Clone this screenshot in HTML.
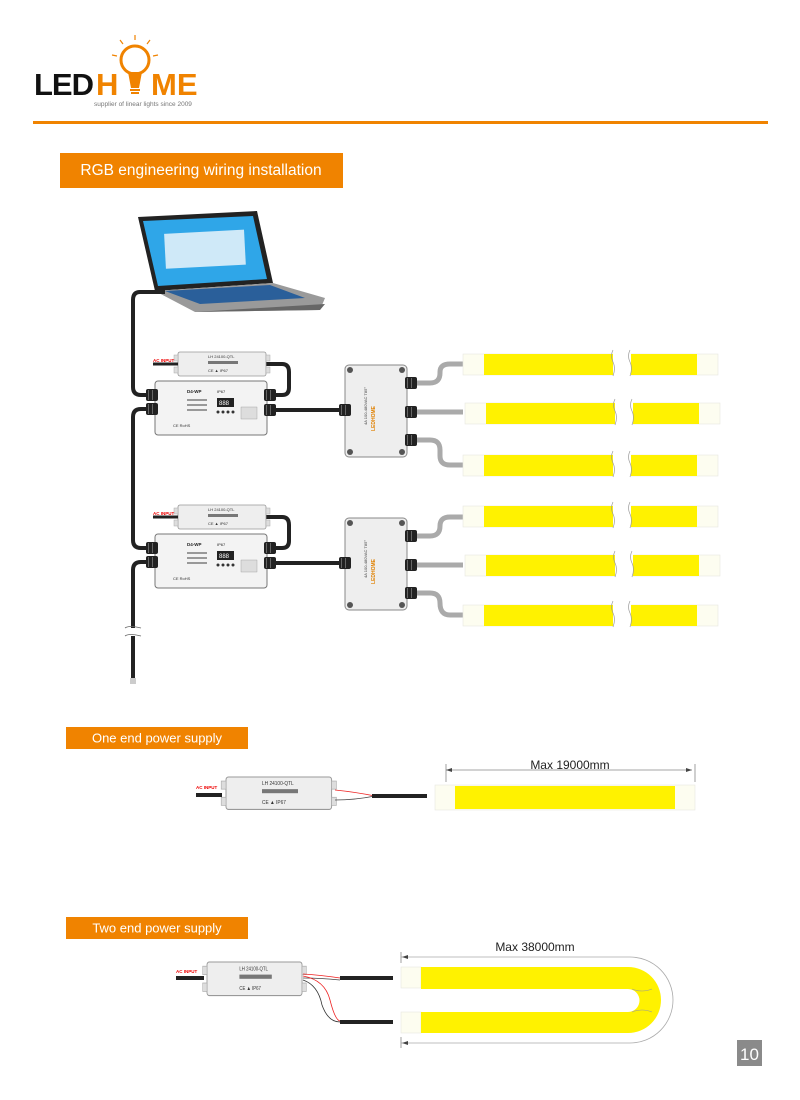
<!DOCTYPE html>
<html><head><meta charset="utf-8"><style>
html,body{margin:0;padding:0;background:#fff;}
svg{display:block;font-family:"Liberation Sans",sans-serif;}
</style></head><body>
<svg width="800" height="1100" viewBox="0 0 800 1100" xmlns="http://www.w3.org/2000/svg">
<defs>
<g id="ps">
 <rect x="0" y="0" width="88" height="24" rx="2" fill="#eeeeee" stroke="#999" stroke-width="0.8"/>
 <rect x="-4" y="3" width="4" height="6" fill="#ddd" stroke="#aaa" stroke-width="0.5"/>
 <rect x="-4" y="15" width="4" height="6" fill="#ddd" stroke="#aaa" stroke-width="0.5"/>
 <rect x="88" y="3" width="4" height="6" fill="#ddd" stroke="#aaa" stroke-width="0.5"/>
 <rect x="88" y="15" width="4" height="6" fill="#ddd" stroke="#aaa" stroke-width="0.5"/>
 <text x="30" y="6" font-size="4" fill="#333">LH 24100-QTL</text>
 <rect x="30" y="9" width="30" height="3" fill="#777"/>
 <text x="30" y="20" font-size="4" fill="#333">CE ▲ IP67</text>
</g>
<g id="ctrl">
 <rect x="0" y="0" width="112" height="54" rx="3" fill="#f3f3f3" stroke="#777" stroke-width="1"/>
 <text x="32" y="12" font-size="4.5" font-weight="bold" fill="#222">D4-WP</text>
 <text x="62" y="12" font-size="4" fill="#222">IP67</text>
 <rect x="62" y="17" width="17" height="9" fill="#222"/>
 <text x="64" y="24" font-size="6" fill="#fff">888</text>
 <circle cx="63" cy="31" r="1.5" fill="#333"/><circle cx="68" cy="31" r="1.5" fill="#333"/><circle cx="73" cy="31" r="1.5" fill="#333"/><circle cx="78" cy="31" r="1.5" fill="#333"/>
 <rect x="86" y="26" width="16" height="12" fill="#ddd" stroke="#999" stroke-width="0.4"/>
 <rect x="32" y="18" width="20" height="2" fill="#999"/><rect x="32" y="23" width="20" height="2" fill="#999"/><rect x="32" y="28" width="20" height="2" fill="#999"/>
 <text x="18" y="46" font-size="4" fill="#333">CE RoHS</text>
</g>
<g id="gland">
 <rect x="0" y="0" width="12" height="12" rx="2" fill="#222"/>
 <rect x="2" y="1" width="1" height="10" fill="#666"/><rect x="6" y="1" width="1" height="10" fill="#666"/>
</g>
<g id="jbox">
 <rect x="0" y="0" width="62" height="92" rx="4" fill="#eeeeee" stroke="#888" stroke-width="1"/>
 <circle cx="5" cy="5" r="3" fill="#555"/><circle cx="57" cy="5" r="3" fill="#555"/>
 <circle cx="5" cy="87" r="3" fill="#555"/><circle cx="57" cy="87" r="3" fill="#555"/>
 <text transform="translate(22,60) rotate(-90)" font-size="4" fill="#444">4A 100-480VAC T85°</text>
 <text transform="translate(30,66) rotate(-90)" font-size="5" font-weight="bold" fill="#e08000">LEDHOME</text>
</g>
<g id="strip">
 <rect x="0" y="0" width="255" height="21" fill="#fdfdf0" stroke="#e6e6e0" stroke-width="0.6"/>
 <rect x="21" y="0" width="213" height="21" fill="#fff200"/>
 <rect x="150" y="-2" width="18" height="25" fill="#fff"/>
 <path d="M150 -4 q-3 6 0 12 q3 6 0 14" stroke="#999" stroke-width="0.7" fill="none"/>
 <path d="M167 -4 q-3 6 0 12 q3 6 0 14" stroke="#999" stroke-width="0.7" fill="none"/>
</g>
</defs>

<!-- logo -->
<text x="34" y="95" font-size="31" font-weight="bold" fill="#111" letter-spacing="-1">LED</text>
<text x="96" y="95" font-size="31" font-weight="bold" fill="#F08300">H</text>
<circle cx="135" cy="60" r="14" fill="none" stroke="#F08300" stroke-width="3"/>
<path d="M128 72 L131 88 L139 88 L142 72 Z" fill="#F08300"/>
<rect x="130" y="89" width="10" height="2" fill="#F08300"/><rect x="131" y="92" width="8" height="2" fill="#F08300"/>
<g stroke="#F08300" stroke-width="1.2"><line x1="135" y1="35" x2="135" y2="40"/><line x1="120" y1="40" x2="123" y2="44"/><line x1="150" y1="40" x2="147" y2="44"/><line x1="112" y1="55" x2="117" y2="56"/><line x1="158" y1="55" x2="153" y2="56"/></g>
<text x="151" y="95" font-size="31" font-weight="bold" fill="#F08300">ME</text>
<text x="94" y="106" font-size="6.5" fill="#777">supplier of linear lights since 2009</text>
<rect x="33" y="121" width="735" height="3" fill="#F08300"/>

<!-- title -->
<rect x="60" y="153" width="283" height="35" fill="#F08300"/>
<text x="201" y="175" font-size="15.5" fill="#fff" text-anchor="middle">RGB engineering wiring installation</text>

<!-- laptop -->
<path d="M138 217 L257 211 L273 283 L155 291 Z" fill="#222"/>
<path d="M143 221 L253 216 L267 279 L158 286 Z" fill="#2fa6e8"/>
<rect x="165" y="232" width="80" height="35" fill="#cfe9f8" transform="rotate(-3 200 250)"/>
<path d="M155 291 L273 283 L325 298 L320 310 L195 312 Z" fill="#9a9a9a"/>
<path d="M165 291 L270 285 L305 298 L200 304 Z" fill="#2a5f9a"/>
<path d="M195 312 L320 310 L325 304 Z" fill="#666"/>

<!-- cables group 1 -->
<g fill="none" stroke="#222" stroke-width="4">
 <path d="M165 292 L140 292 Q133 292 133 300 L133 387 Q133 395 141 395 L150 395"/>
 <path d="M150 409 L141 409 Q133 409 133 417 L133 540 Q133 548 141 548 L150 548"/>
 <path d="M150 562 L141 562 Q133 562 133 570 L133 628"/>
 <path d="M133 636 L133 680"/>
 <path d="M265 364 L282 364 Q289 364 289 372 L289 388 Q289 395 282 395 L272 395"/>
 <path d="M272 410 L345 410"/>
 <path d="M265 517 L282 517 Q289 517 289 525 L289 541 Q289 548 282 548 L272 548"/>
 <path d="M272 563 L345 563"/>
</g>
<path d="M125 628 q4 -3 16 0 M125 636 q4 -3 16 0" stroke="#666" stroke-width="0.8" fill="none"/>
<rect x="129" y="678" width="8" height="5" fill="#fff"/>
<g stroke="#555" stroke-width="0.6"><line x1="130" y1="679" x2="136" y2="679"/><line x1="130" y1="681" x2="136" y2="681"/><line x1="130" y1="683" x2="136" y2="683"/></g>

<!-- gray cables to strips -->
<g fill="none" stroke="#aaa" stroke-width="5">
 <path d="M415 383 L430 383 Q440 383 440 373 L440 372 Q440 364 450 364 L463 364"/>
 <path d="M415 412 L463 412"/>
 <path d="M415 440 L430 440 Q440 440 440 450 L440 456 Q440 465 450 465 L463 465"/>
 <path d="M415 536 L430 536 Q440 536 440 526 Q440 517 450 517 L463 517"/>
 <path d="M415 565 L463 565"/>
 <path d="M415 593 L430 593 Q440 593 440 603 Q440 615 450 615 L463 615"/>
</g>

<!-- group 1 devices -->
<use href="#ps" x="178" y="352"/>
<text x="153" y="362" font-size="4.5" font-weight="bold" fill="#e00">AC INPUT</text>
<line x1="153" y1="364" x2="178" y2="364" stroke="#222" stroke-width="3"/>
<use href="#ctrl" x="155" y="381"/>
<use href="#gland" x="146" y="389"/><use href="#gland" x="146" y="403"/>
<use href="#gland" x="264" y="389"/><use href="#gland" x="264" y="404"/>
<use href="#jbox" x="345" y="365"/>
<use href="#gland" x="339" y="404"/>
<use href="#gland" x="405" y="377"/><use href="#gland" x="405" y="406"/><use href="#gland" x="405" y="434"/>
<use href="#strip" x="463" y="354"/>
<use href="#strip" x="465" y="403"/>
<use href="#strip" x="463" y="455"/>

<!-- group 2 -->
<use href="#ps" x="178" y="505"/>
<text x="153" y="515" font-size="4.5" font-weight="bold" fill="#e00">AC INPUT</text>
<line x1="153" y1="517" x2="178" y2="517" stroke="#222" stroke-width="3"/>
<use href="#ctrl" x="155" y="534"/>
<use href="#gland" x="146" y="542"/><use href="#gland" x="146" y="556"/>
<use href="#gland" x="264" y="542"/><use href="#gland" x="264" y="557"/>
<use href="#jbox" x="345" y="518"/>
<use href="#gland" x="339" y="557"/>
<use href="#gland" x="405" y="530"/><use href="#gland" x="405" y="559"/><use href="#gland" x="405" y="587"/>
<use href="#strip" x="463" y="506"/>
<use href="#strip" x="465" y="555"/>
<use href="#strip" x="463" y="605"/>

<!-- One end -->
<rect x="66" y="727" width="182" height="22" fill="#F08300"/>
<text x="157" y="742.5" font-size="13" fill="#fff" text-anchor="middle">One end power supply</text>
<use href="#ps" transform="translate(226 777) scale(1.2 1.35)"/>
<text x="196" y="789" font-size="4.5" font-weight="bold" fill="#e00">AC INPUT</text>
<line x1="196" y1="795" x2="222" y2="795" stroke="#222" stroke-width="4"/>
<path d="M335 790 Q355 792 375 796" stroke="#e22" stroke-width="0.8" fill="none"/>
<path d="M335 800 Q355 800 375 796" stroke="#444" stroke-width="0.8" fill="none"/>
<line x1="372" y1="796" x2="427" y2="796" stroke="#222" stroke-width="4"/>
<rect x="435" y="785" width="260" height="25" fill="#fdfdf0" stroke="#e6e6e0" stroke-width="0.6"/>
<rect x="455" y="786" width="220" height="23" fill="#fff200"/>
<line x1="446" y1="770" x2="692" y2="770" stroke="#888" stroke-width="0.8"/>
<line x1="446" y1="764" x2="446" y2="782" stroke="#888" stroke-width="0.8"/>
<line x1="695" y1="764" x2="695" y2="782" stroke="#888" stroke-width="0.8"/>
<path d="M446 770 l6 -2 v4 z M692 770 l-6 -2 v4 z" fill="#444"/>
<text x="570" y="769" font-size="12" fill="#222" text-anchor="middle">Max 19000mm</text>

<!-- Two end -->
<rect x="66" y="917" width="182" height="22" fill="#F08300"/>
<text x="157" y="932.5" font-size="13" fill="#fff" text-anchor="middle">Two end power supply</text>
<use href="#ps" transform="translate(207 962) scale(1.08 1.4)"/>
<text x="176" y="973" font-size="4.5" font-weight="bold" fill="#e00">AC INPUT</text>
<line x1="176" y1="978" x2="204" y2="978" stroke="#222" stroke-width="4"/>
<path d="M303 974 Q320 975 340 978" stroke="#e22" stroke-width="0.8" fill="none"/>
<path d="M303 978 Q320 978 340 980" stroke="#444" stroke-width="0.8" fill="none"/>
<path d="M303 976 Q325 980 330 1000 Q335 1020 340 1021" stroke="#e22" stroke-width="0.8" fill="none"/>
<path d="M303 980 Q318 985 322 1005 Q328 1022 340 1022" stroke="#333" stroke-width="0.8" fill="none"/>
<line x1="340" y1="978" x2="393" y2="978" stroke="#222" stroke-width="4"/>
<line x1="340" y1="1022" x2="393" y2="1022" stroke="#222" stroke-width="4"/>
<rect x="401" y="967" width="20" height="21" fill="#fdfdf0" stroke="#e6e6e0" stroke-width="0.6"/>
<rect x="401" y="1012" width="20" height="21" fill="#fdfdf0" stroke="#e6e6e0" stroke-width="0.6"/>
<path d="M421 967 L628 967 A33 33 0 0 1 628 1033 L421 1033 L421 1012 L628 1012 A11.5 11.5 0 0 0 628 989 L421 989 Z" fill="#fff200"/>
<path d="M632 989 q10 4 20 0 M632 1012 q10 -4 20 0" stroke="#999" stroke-width="0.6" fill="none"/>
<path d="M401 957 L630 957 A43 43 0 0 1 630 1043 L401 1043" stroke="#aaa" stroke-width="0.8" fill="none"/>
<line x1="401" y1="952" x2="401" y2="963" stroke="#888" stroke-width="0.8"/>
<line x1="401" y1="1037" x2="401" y2="1048" stroke="#888" stroke-width="0.8"/>
<path d="M402 957 l6 -2 v4 z M402 1043 l6 -2 v4 z" fill="#444"/>
<text x="535" y="951" font-size="12" fill="#222" text-anchor="middle">Max 38000mm</text>

<!-- page number -->
<rect x="737" y="1040" width="25" height="26" fill="#8a8a8a"/>
<text x="749.5" y="1060" font-size="17" fill="#fff" text-anchor="middle">10</text>
</svg>
</body></html>
